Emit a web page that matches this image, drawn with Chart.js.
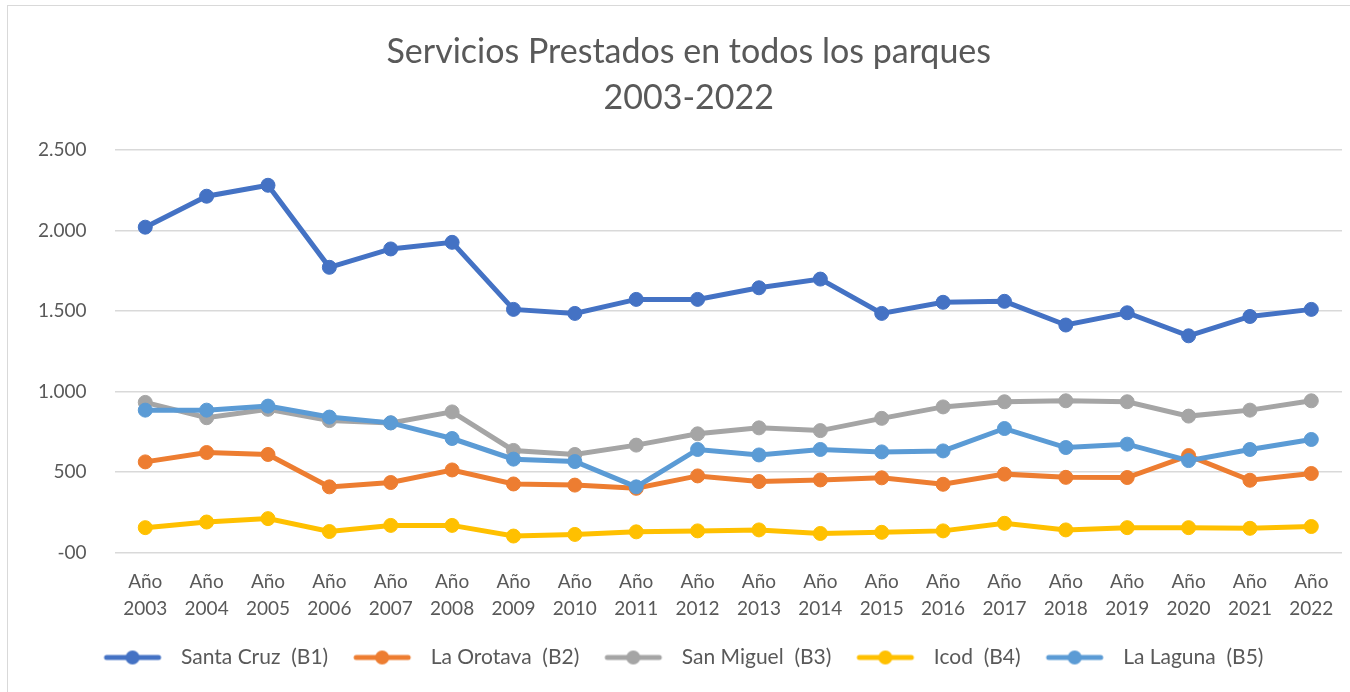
<!DOCTYPE html>
<html>
<head>
<meta charset="utf-8">
<script src="https://cdn.jsdelivr.net/npm/chart.js@4/dist/chart.umd.min.js"></script>
<style>
  html, body { margin: 0; padding: 0; background: #fff; }
  #wrap { position: relative; width: 1350px; height: 692px; overflow: hidden; }
  #frame { position: absolute; left: 7px; top: 5px; width: 1360px; height: 700px; border: 1px solid #d9d9d9; pointer-events: none; }
  canvas { position: absolute; left: 0; top: 0; }
</style>
</head>
<body>
<div id="wrap">
  <canvas id="chart" width="1350" height="692"></canvas>
  <div id="frame"></div>
</div>
<script>
const years = ["2003", "2004", "2005", "2006", "2007", "2008", "2009", "2010", "2011", "2012",
               "2013", "2014", "2015", "2016", "2017", "2018", "2019", "2020", "2021", "2022"];
const categories = years.map((y) => ["Año", y]);

const santaCruz = [2020, 2212, 2280, 1771, 1885, 1926, 1510, 1485, 1572, 1572,
                   1644, 1698, 1485, 1554, 1560, 1413, 1489, 1346, 1466, 1510];
const laOrotava = [564, 622, 610, 409, 436, 514, 427, 420, 400, 477,
                   442, 452, 465, 425, 488, 468, 467, 603, 450, 492];
const sanMiguel = [933, 838, 890, 820, 806, 874, 635, 610, 668, 738,
                   775, 758, 834, 905, 937, 943, 937, 848, 885, 943];
const icod = [156, 191, 212, 132, 170, 170, 104, 114, 130, 136,
              142, 120, 127, 136, 183, 142, 156, 156, 152, 163];
const laLaguna = [885, 885, 910, 842, 806, 709, 581, 566, 409, 641,
                  607, 641, 626, 632, 771, 653, 674, 572, 641, 703];

const seriesNames = ["Santa Cruz  (B1)", "La Orotava  (B2)", "San Miguel  (B3)", "Icod  (B4)", "La Laguna  (B5)"];
const seriesColors = ["#4472C4", "#ED7D31", "#A5A5A5", "#FFC000", "#5B9BD5"];
const yTickLabels = ["-00", "500", "1.000", "1.500", "2.000", "2.500"];

const textColor = "#595959";
const fontFamily = "Lato, 'Noto Sans', sans-serif";

// legend swatch: blank lead-in, then a line with a dot in the middle
function makeSwatch(color) {
    const c = document.createElement("canvas");
    c.width = 82;
    c.height = 16;
    const g = c.getContext("2d");
    g.strokeStyle = color;
    g.lineWidth = 5;
    g.lineCap = "round";
    g.beginPath();
    g.moveTo(18, 8);
    g.lineTo(70, 8);
    g.stroke();
    g.fillStyle = color;
    g.beginPath();
    g.arc(44, 8, 7, 0, Math.PI * 2);
    g.fill();
    return c;
}
const swatches = seriesColors.map(makeSwatch);

const allSeries = [santaCruz, laOrotava, sanMiguel, icod, laLaguna];
const datasets = allSeries.map((values, i) => ({
    label: seriesNames[i],
    data: values,
    borderColor: seriesColors[i],
    backgroundColor: seriesColors[i],
    pointBackgroundColor: seriesColors[i],
    pointBorderColor: seriesColors[i],
    borderWidth: 5,
    pointRadius: 7,
    pointBorderWidth: 1,
    tension: 0,
    order: allSeries.length - i,
}));

new Chart(document.getElementById("chart").getContext("2d"), {
    type: "line",
    data: { labels: categories, datasets },
    options: {
        responsive: false,
        animation: false,
        layout: { padding: { left: 10, right: 8, top: 0, bottom: 14 } },
        plugins: {
            title: {
                display: true,
                // leading em space nudges the title right, as in the original
                text: ["\u2003Servicios Prestados en todos los parques", "\u20032003-2022"],
                color: textColor,
                font: { family: fontFamily, size: 34, weight: "normal", lineHeight: 1.35 },
                padding: { top: 29, bottom: 29 },
            },
            legend: {
                position: "bottom",
                labels: {
                    color: textColor,
                    font: { family: fontFamily, size: 21 },
                    usePointStyle: true,
                    pointStyleWidth: 82,
                    padding: 10,
                    generateLabels: (chart) => chart.data.datasets.map((ds, i) => ({
                        text: ds.label,
                        pointStyle: swatches[i],
                        fillStyle: seriesColors[i],
                        strokeStyle: seriesColors[i],
                        lineWidth: 0,
                        fontColor: textColor,
                        datasetIndex: i,
                        hidden: false,
                    })),
                },
            },
            tooltip: { enabled: false },
        },
        scales: {
            x: {
                offset: true,
                grid: { display: false },
                border: { display: false },
                ticks: {
                    color: textColor,
                    font: { family: fontFamily, size: 19, lineHeight: 1.4 },
                    padding: 8,
                    maxRotation: 0,
                    autoSkip: false,
                },
                afterFit: (scale) => { scale.height += 7; },
            },
            y: {
                min: 0,
                max: 2500,
                border: { display: false },
                grid: { color: "#d9d9d9", lineWidth: 1.5, drawTicks: false },
                ticks: {
                    stepSize: 500,
                    color: textColor,
                    font: { family: fontFamily, size: 19 },
                    padding: 28,
                    callback: (value, index) => yTickLabels[index],
                },
            },
        },
    },
});
</script>
</body>
</html>
